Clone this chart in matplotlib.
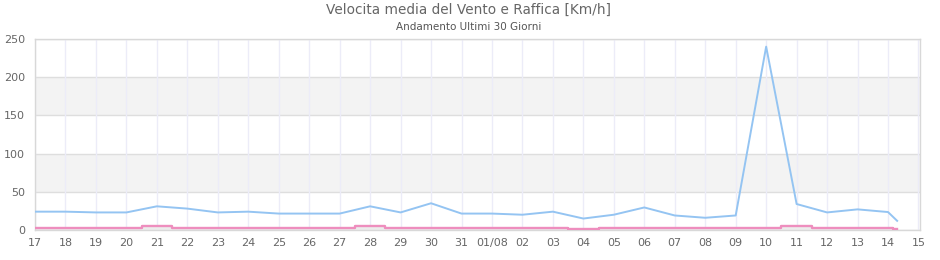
import matplotlib
matplotlib.use("Agg")
import matplotlib.pyplot as plt

W, H, DPI = 940, 260, 100

# dati
day_labels = ["17", "18", "19", "20", "21", "22", "23", "24", "25", "26",
              "27", "28", "29", "30", "31", "01/08", "02", "03", "04", "05",
              "06", "07", "08", "09", "10", "11", "12", "13", "14", "15"]
x_pos = list(range(29)) + [28.3]
raffica = [24, 24, 23, 23, 31, 28, 23, 24, 21.5, 21.5,
           21.5, 31, 23, 35, 21.5, 21.5, 20, 24, 15, 20,
           29.5, 19, 16, 19, 240, 34, 23, 27, 23.5, 12]
media = [3, 3, 3, 3, 5, 3, 3, 3, 3, 3,
         3, 5, 3, 3, 3, 3, 3, 3, 1, 3,
         3, 3, 3, 3, 3, 5, 3, 3, 3, 1]
y_ticks = [0, 50, 100, 150, 200, 250]

BLUE = "#94c4f2"
PINK = "#ee8ebe"
GRID = "#dedede"
VGRID = "#ececf8"
BAND = "#f3f3f3"
TXT = "#666666"

fig = plt.figure(figsize=(W / DPI, H / DPI), dpi=DPI, facecolor="white")
ax = fig.add_axes([35 / W, 30 / H, 885 / W, 191 / H])

# bande alternate
for lo in (50, 150):
    ax.axhspan(lo, lo + 50, color=BAND, zorder=0, lw=0)
for yv in y_ticks:
    ax.axhline(yv, color=GRID, lw=1, zorder=1)
for i in range(len(day_labels)):
    ax.axvline(i, color=VGRID, lw=1, zorder=1)

ax.fill_between(x_pos, media, 0, step="mid", color="#ececec", zorder=2, lw=0)
ax.step(x_pos, media, where="mid", color=PINK, lw=1.7, zorder=3)
ax.plot(x_pos, raffica, color=BLUE, lw=1.4, zorder=4)

ax.set_xlim(0, 29.05)
ax.set_ylim(0, 250)
ax.set_xticks(range(len(day_labels)))
ax.set_xticklabels(day_labels)
ax.set_yticks(y_ticks)
ax.tick_params(length=0, labelsize=8, colors=TXT, pad=6)
ax.tick_params(axis="y", pad=7)
for s in ax.spines.values():
    s.set_color("#d8d8d8")
    s.set_linewidth(1)

fig.text(469 / W, 1 - 10 / H, "Velocita media del Vento e Raffica [Km/h]",
         ha="center", va="center", fontsize=9.8, color=TXT)
fig.text(469 / W, 1 - 27 / H, "Andamento Ultimi 30 Giorni",
         ha="center", va="center", fontsize=7.5, color="#555555")

fig.savefig("out.png", dpi=DPI, facecolor="white")
plt.close(fig)
